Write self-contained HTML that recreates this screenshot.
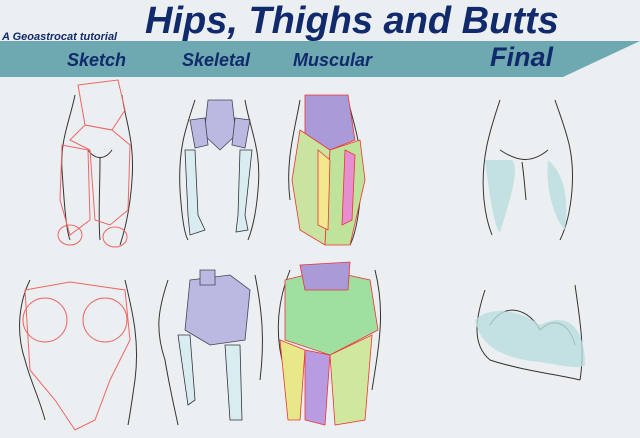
<!DOCTYPE html>
<html><head><style>
body{margin:0;width:640px;height:438px;background:#eceff1;overflow:hidden;position:relative;font-family:"Liberation Sans",sans-serif}
.t{position:absolute;color:#102a6b;font-weight:bold;font-style:italic;white-space:nowrap}
</style></head><body>
<svg width="640" height="438" style="position:absolute;left:0;top:0">
<polygon points="0,41 640,41 563,77 0,77" fill="#6ea9b1"/>
<g fill="none" stroke="#333" stroke-width="1">
<path d="M75,95 C70,120 60,140 62,170 C64,200 66,230 70,240"/><path d="M122,95 C125,120 135,140 132,180 C130,210 125,230 120,245"/>
<path d="M88,150 C95,160 105,160 112,150 M100,158 C100,190 98,220 100,240"/>
<path d="M195,100 C185,130 178,150 180,190 C182,220 185,235 188,240"/><path d="M245,100 C250,130 262,150 258,190 C256,215 252,230 248,240"/>
<path d="M300,100 C295,130 285,160 290,200"/><path d="M348,100 C355,130 365,150 360,200 C358,220 355,235 350,245"/>
<path d="M500,100 C490,130 480,160 484,200 C486,220 490,230 492,235"/><path d="M555,100 C565,130 575,150 572,190 C570,215 565,230 560,240"/>
<path d="M500,150 C515,160 530,165 548,150 M522,162 C524,175 525,190 526,200"/>
<path d="M30,280 C20,300 15,330 25,360 C30,380 40,400 45,420"/><path d="M125,280 C132,310 140,340 135,380 C132,400 130,415 128,425"/>
<path d="M168,280 C158,310 155,330 165,360 C170,390 175,410 178,425"/><path d="M255,275 C262,310 265,340 260,380"/>
<path d="M290,270 C278,300 275,330 282,360"/><path d="M375,270 C385,310 380,340 372,390"/>
<path d="M485,290 C475,320 472,345 490,360 C520,370 560,375 580,380 M575,285 C580,320 585,350 580,380"/>
<path d="M490,325 C505,300 530,310 540,330 C555,315 570,325 575,345"/>
</g>
<g fill="none" stroke="#e66" stroke-width="1">
<path d="M78,85 L118,80 L125,110 L112,130 L85,125 Z"/><path d="M70,140 L85,125 L112,130 L130,145 L128,210 L110,225 L95,220 L90,150 Z"/>
<path d="M62,145 L88,150 L90,220 L70,235 L60,200 Z"/><ellipse cx="70" cy="235" rx="12" ry="10"/><ellipse cx="115" cy="237" rx="12" ry="10"/>
<path d="M25,290 L70,282 L125,290 L130,340 L110,380 L95,420 L75,430 L55,400 L30,370 Z"/><circle cx="45" cy="320" r="22"/><circle cx="105" cy="320" r="22"/>
</g>
<g fill="#b5b4e0" stroke="#334" stroke-width="0.8" opacity="0.9">
<path d="M208,100 L232,100 L236,135 L220,150 L204,135 Z"/><path d="M190,120 L205,118 L208,145 L195,148 Z"/><path d="M235,118 L250,120 L245,148 L232,145 Z"/>
<path d="M190,280 L230,275 L250,290 L245,340 L210,345 L185,330 Z"/><path d="M200,270 L215,270 L215,285 L200,285 Z"/>
</g>
<g fill="#d9ecf0" stroke="#334" stroke-width="0.8">
<path d="M185,150 L195,150 L198,215 L205,230 L190,235 L188,215 Z"/><path d="M240,150 L252,150 L245,215 L248,230 L236,232 L238,215 Z"/>
<path d="M178,335 L190,335 L195,400 L188,405 Z"/><path d="M225,345 L240,345 L242,420 L230,420 Z"/>
</g>
<g stroke="#e33" stroke-width="0.8">
<path d="M305,95 L348,95 L355,140 L330,150 L305,140 Z" fill="#a99ad8"/>
<path d="M300,130 L330,150 L325,245 L300,230 L292,180 Z" fill="#c8e4a0"/>
<path d="M330,150 L360,140 L365,180 L350,245 L325,245 Z" fill="#bfe39b"/>
<path d="M318,150 L330,160 L328,230 L318,225 Z" fill="#f2e88e"/>
<path d="M345,150 L355,155 L352,220 L342,225 Z" fill="#e58fd0"/>
<path d="M285,280 L325,270 L370,280 L378,330 L330,355 L285,340 Z" fill="#9fe0a0"/>
<path d="M280,340 L305,350 L300,420 L288,420 Z" fill="#e8e88a"/><path d="M305,350 L330,355 L325,425 L305,420 Z" fill="#b89be0"/>
<path d="M330,355 L372,335 L365,420 L335,425 Z" fill="#cfe89e"/>
<path d="M300,265 L350,262 L348,290 L305,290 Z" fill="#a99ad8"/>
</g>
<g fill="#b9dde0" opacity="0.8">
<path d="M485,160 C490,200 495,230 500,232 C510,200 520,170 512,160 Z"/><path d="M548,160 C560,170 570,190 565,230 C555,220 545,190 548,160 Z"/>
<path d="M475,320 C480,345 500,358 540,362 C560,365 578,370 585,365 C585,330 570,310 540,325 C520,310 490,305 475,320 Z"/>
</g>
</svg>
<div class="t" style="left:2px;top:31px;font-size:11px">A Geoastrocat tutorial</div>
<div class="t" style="left:145px;top:0px;font-size:38px">Hips, Thighs and Butts</div>
<div class="t" style="left:67px;top:50px;font-size:18px">Sketch</div>
<div class="t" style="left:182px;top:50px;font-size:18px">Skeletal</div>
<div class="t" style="left:293px;top:50px;font-size:18px">Muscular</div>
<div class="t" style="left:490px;top:42px;font-size:27px">Final</div>
</body></html>
